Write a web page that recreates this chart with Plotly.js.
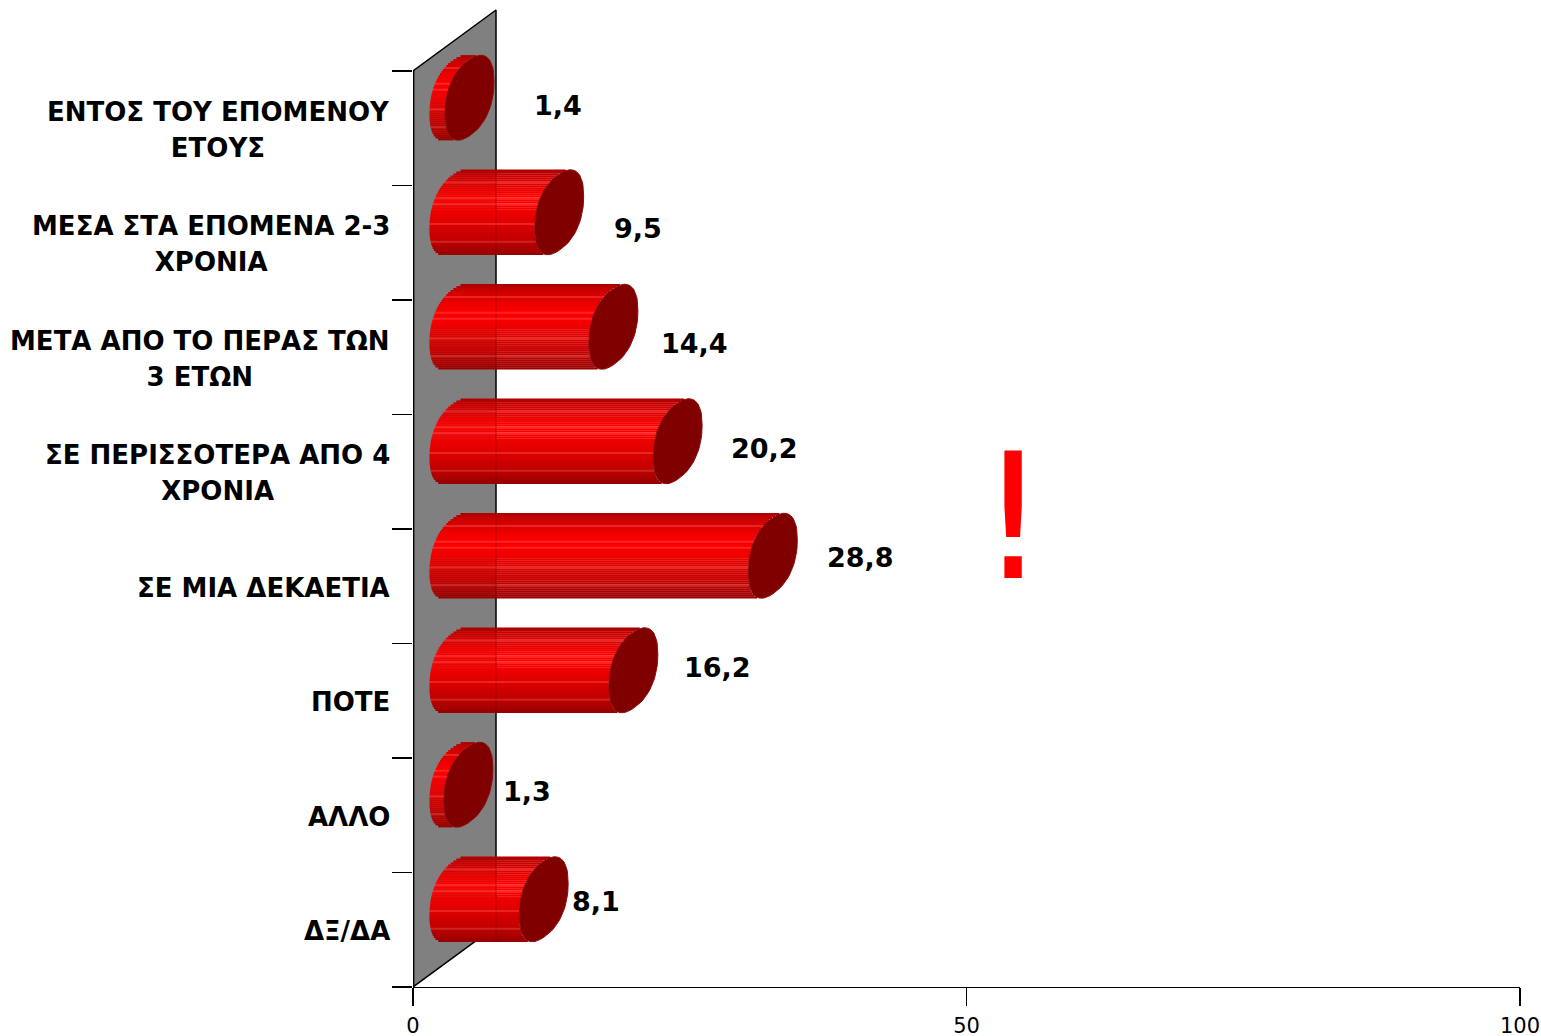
<!DOCTYPE html>
<html><head><meta charset="utf-8">
<script src="https://cdn.plot.ly/plotly-3.0.1.min.js"></script>
<style>html,body{margin:0;padding:0;background:#fff}</style></head>
<body><div id="chart" style="width:1541px;height:1036px"></div>
<script>
const categories = ["ΕΝΤΟΣ ΤΟΥ ΕΠΟΜΕΝΟΥ<br>ΕΤΟΥΣ","ΜΕΣΑ ΣΤΑ ΕΠΟΜΕΝΑ 2-3<br>ΧΡΟΝΙΑ","ΜΕΤΑ ΑΠΟ ΤΟ ΠΕΡΑΣ ΤΩΝ<br>3 ΕΤΩΝ","ΣΕ ΠΕΡΙΣΣΟΤΕΡΑ ΑΠΟ 4<br>ΧΡΟΝΙΑ","ΣΕ ΜΙΑ ΔΕΚΑΕΤΙΑ","ΠΟΤΕ","ΑΛΛΟ","ΔΞ/ΔΑ"];
const values = [1.4,9.5,14.4,20.2,28.8,16.2,1.3,8.1];
const valueLabels = ["1,4","9,5","14,4","20,2","28,8","16,2","1,3","8,1"];
const xTicks = [0,50,100];

// where each value label sits, in pixels of the 1541x1036 page
const labelPx = [[558,105],[638,228],[694,343],[764,448],[860,557],[717,667],[527,791],[596,901]];

const PX_X = (1520-413)/100, PX_Y = (987-71)/8;
const px2x = p => (p-413)/PX_X, px2y = p => (p-71)/PX_Y-0.5;
const DEPTH_X = 83/PX_X, DEPTH_Y = 61/PX_Y;
const BASE_X = 41/PX_X, LIFT = 30.5/PX_Y;
const A = 24.5/PX_X, B = 42.5/PX_Y, PHI = 0.4, ROUND = 0.88;
const N = 43;
const Y_RANGE = [7.5,px2y(0)];

function shade(f){
  const stops=[[0,[170,0,0]],[0.08,[205,0,0]],[0.33,[255,0,0]],[0.55,[232,0,0]],[0.85,[190,0,0]],[1,[150,0,0]]];
  for(let i=1;i<stops.length;i++){ if(f<=stops[i][0]){
    const a=stops[i-1],b=stops[i],k=(f-a[0])/(b[0]-a[0]);
    return a[1].map((c,j)=>c+(b[1][j]-c)*k);
  }}
  return stops[stops.length-1][1];
}
const spow = (v,p) => Math.sign(v)*Math.pow(Math.abs(v),p);
const rawDy = t => Math.sin(PHI)*spow(Math.cos(t),ROUND)+Math.cos(PHI)*spow(Math.sin(t),ROUND);
let maxDy=0; for(let k=0;k<720;k++) maxDy=Math.max(maxDy,Math.abs(rawDy(k/720*2*Math.PI)));
const capDx = t => A*spow(Math.cos(t),ROUND);
const capDy = t => -B*rawDy(t)/maxDy;
const T=[];for(let k=0;k<=72;k++)T.push(k/72*2*Math.PI);
function leftEdge(off){
  let best=Infinity;
  for(let k=0;k<1440;k++){
    const t0=k/1440*2*Math.PI,t1=(k+1)/1440*2*Math.PI,y0=capDy(t0),y1=capDy(t1);
    if((y0-off)*(y1-off)<=0) best=Math.min(best,capDx(t0));
  }
  return best===Infinity?0:best;
}
const streaks = new Set([6,14,17,27,36]);
const traces = [];
const idx = values.map((_,i)=>i);
const noHover={hoverinfo:'skip',showlegend:false};

// grey wall
traces.push({type:'scatter',mode:'lines',x:[0,DEPTH_X,DEPTH_X,0,0],y:[7.5,7.5-DEPTH_Y,-0.5-DEPTH_Y,-0.5,7.5],
  fill:'toself',fillcolor:'#808080',line:{color:'#000',width:1.5},xaxis:'x',yaxis:'y',...noHover});
traces.push({type:'scatter',mode:'lines',x:[0,0],y:[7.5,-0.5],line:{color:'#000',width:2.8},xaxis:'x',yaxis:'y',...noHover});

// cylinder bodies: horizontal strips, each as long as the value
for(let s=0;s<N;s++){
  const f=(s+0.5)/N, off=(f-0.5)*2*B;
  const left=BASE_X+leftEdge(off);
  let c=shade(f);
  if(streaks.has(s)) c=[Math.min(255,c[0]+15),c[1]+35,c[2]+35];
  traces.push({type:'bar',orientation:'h',x:values,y:idx.map(i=>i-LIFT+off),base:values.map(()=>left),
    width:2*B/N*1.15,marker:{color:`rgb(${c.map(Math.round).join(',')})`,line:{width:0}},
    xaxis:'x',yaxis:'y2',...noHover});
}
// wall edge faintly seen through the bars
const gx=[],gy=[];
values.forEach((v,i)=>{ if(v>5){gx.push(DEPTH_X,DEPTH_X,null);gy.push(i-LIFT-B,i-LIFT+B,null);} });
traces.push({type:'scatter',mode:'lines',x:gx,y:gy,line:{color:'rgba(90,0,0,0.3)',width:1},xaxis:'x',yaxis:'y2',...noHover});

// end caps
values.forEach((v,i)=>{
  traces.push({type:'scatter',mode:'lines',
    x:T.map(t=>BASE_X+v+capDx(t)),
    y:T.map(t=>i-LIFT+capDy(t)),
    fill:'toself',fillcolor:'#800000',line:{color:'#8a0c0c',width:1},xaxis:'x',yaxis:'y2',...noHover});
});

const annotations=[];
const sized = c => c.split('<br>').map(l=>`<span style="font-size:26px">${l}</span>`).join('<br>');
categories.forEach((c,i)=>annotations.push({text:sized(c),x:0,y:i+0.015,xref:'x',yref:'y',xanchor:'right',yanchor:'middle',xshift:-21,align:'center',showarrow:false,
  font:{family:'DejaVu Sans',size:27.7,color:'#000',weight:700}}));
valueLabels.forEach((t,i)=>annotations.push({text:t,x:px2x(labelPx[i][0]),y:px2y(labelPx[i][1]),xref:'x',yref:'y',xanchor:'center',yanchor:'middle',showarrow:false,
  font:{family:'DejaVu Sans',size:27,color:'#000',weight:700}}));
annotations.push({text:'!',x:px2x(1013),y:px2y(517),xref:'x',yref:'y',xanchor:'center',yanchor:'middle',showarrow:false,
  font:{family:'DejaVu Sans',size:175,color:'#ff0000'}});

const layout={
  width:1541,height:1036,autosize:false,
  margin:{l:413,r:21,t:0,b:49,pad:0},
  paper_bgcolor:'#fff',plot_bgcolor:'#fff',showlegend:false,barmode:'overlay',
  font:{family:'DejaVu Sans',color:'#000'},
  xaxis:{range:[0,100],tickmode:'array',tickvals:xTicks,ticktext:xTicks.map(String),ticks:'outside',ticklen:18,tickwidth:1.3,tickcolor:'#000',ticklabelstandoff:1,
    showline:true,linecolor:'#000',linewidth:1.3,showgrid:false,zeroline:false,tickfont:{size:21,family:'DejaVu Sans',color:'#000'}},
  yaxis:{range:Y_RANGE,tickmode:'array',tickvals:[-0.5,0.5,1.5,2.5,3.5,4.5,5.5,6.5,7.5],ticktext:['','','','','','','','',''],ticks:'outside',ticklen:20,tickwidth:1.3,tickcolor:'#000',
    showline:false,showgrid:false,zeroline:false},
  yaxis2:{range:Y_RANGE,overlaying:'y',visible:false,showgrid:false,zeroline:false},
  annotations
};
Plotly.newPlot('chart',traces,layout,{displayModeBar:false,staticPlot:true});
</script></body></html>
